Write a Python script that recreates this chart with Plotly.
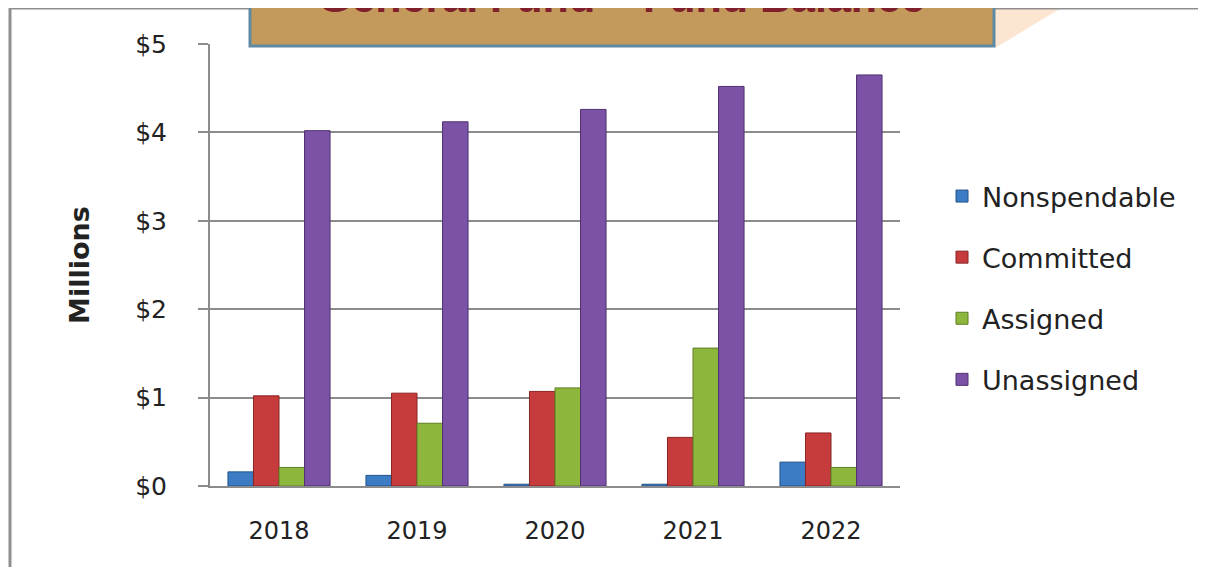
import plotly.graph_objects as go

# Fund balance components, in millions of dollars
years = ["2018", "2019", "2020", "2021", "2022"]
nonspendable = [0.16, 0.12, 0.02, 0.02, 0.27]
committed = [1.02, 1.05, 1.07, 0.55, 0.60]
assigned = [0.21, 0.71, 1.11, 1.56, 0.21]
unassigned = [4.02, 4.12, 4.26, 4.52, 4.65]

series = [
    ("Nonspendable", nonspendable, "#3B7CC4", "#24548A"),
    ("Committed", committed, "#C63B3B", "#8A2424"),
    ("Assigned", assigned, "#8DB63C", "#5E7D24"),
    ("Unassigned", unassigned, "#7C52A6", "#4F3270"),
]

# page body has an 8px margin, so the figure is drawn 8px smaller
OFF = 8
W, H = 1206 - OFF, 567 - OFF
L, T = 210 - OFF, 44 - OFF
R, B = 306, 81
pw, ph = 690, 442


def px(x):
    # reference pixel -> paper x
    return (x - 210) / pw


def py(y):
    # reference pixel -> paper y
    return (486 - y) / ph


fig = go.Figure()
for name, vals, color, edge in series:
    fig.add_trace(go.Bar(
        x=years, y=vals, name=name, legendgroup=name,
        marker=dict(color=color, line=dict(color=edge, width=1)),
    ))

font = "DejaVu Sans"

fig.update_layout(
    width=W, height=H,
    margin=dict(l=L, r=R, t=T, b=B),
    paper_bgcolor="white", plot_bgcolor="white",
    barmode="group", bargap=0.26, bargroupgap=0,
    font=dict(family=font, size=22, color="#222222"),
    legend=dict(
        x=px(942), y=py(172), xanchor="left", yanchor="top",
        font=dict(family=font, size=27, color="#222222"),
        tracegroupgap=23, itemwidth=30,
    ),
    xaxis=dict(
        showline=True, linecolor="#8c8c8c", linewidth=2,
        ticks="", tickfont=dict(family=font, size=24),
        ticklabelstandoff=22,
        showgrid=False,
    ),
    yaxis=dict(
        range=[0, 5], dtick=1, tickprefix="$",
        showline=True, linecolor="#8c8c8c", linewidth=2,
        ticks="outside", ticklen=10, tickcolor="#8c8c8c", tickwidth=2,
        showgrid=True, gridcolor="#8c8c8c", gridwidth=1.5,
        zeroline=False, tickfont=dict(family=font, size=25),
        ticklabelstandoff=26,
        title=dict(text="<b>Millions</b>", font=dict(family=font, size=27),
                   standoff=38),
    ),
    shapes=[
        # slide frame
        dict(type="line", xref="paper", yref="paper",
             x0=px(10), x1=px(10), y0=py(8), y1=py(600),
             line=dict(color="#8f8f8f", width=3)),
        dict(type="line", xref="paper", yref="paper",
             x0=px(10), x1=px(1220), y0=py(8), y1=py(8),
             line=dict(color="#8f8f8f", width=3)),
        # orange decoration
        dict(type="path", xref="paper", yref="paper", layer="below",
             path=f"M {px(995)} {py(-2)} L {px(1078)} {py(-2)} L {px(995)} {py(48)} Z",
             fillcolor="#FCE6D2", line=dict(width=0)),
        dict(type="path", xref="paper", yref="paper", layer="above",
             path=f"M {px(24)} {py(-2)} L {px(42)} {py(-2)} L {px(28)} {py(7)} Z",
             fillcolor="#F5B23C", line=dict(width=0)),
        # title box
        dict(type="rect", xref="paper", yref="paper", layer="above",
             x0=px(250), x1=px(994), y0=py(46), y1=py(-12),
             fillcolor="#C39A5C", line=dict(color="#5F8AA6", width=3)),
    ],
    annotations=[
        dict(text="<b>General Fund \u2013 Fund Balance</b>",
             xref="paper", yref="paper", x=px(621), y=py(13),
             xanchor="center", yanchor="bottom", showarrow=False,
             yshift=-10,
             font=dict(family="Liberation Sans", size=43, color="#80202A")),
    ],
)

fig.write_html("out.html")
